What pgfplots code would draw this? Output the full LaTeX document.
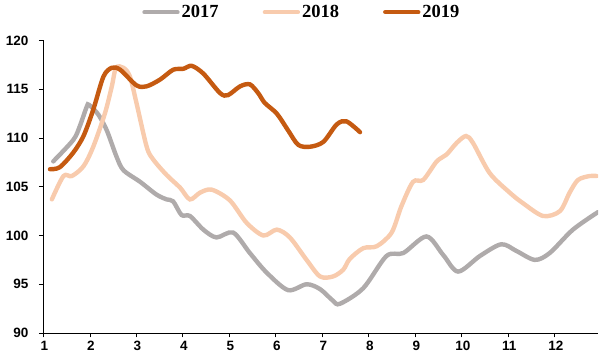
\documentclass[border=0pt]{standalone}
\usepackage{pgfplots}
\pgfplotsset{compat=1.18}
\usepackage{fontspec}
\setmainfont{Liberation Sans}
\newfontfamily\legfont{Liberation Serif}
\definecolor{c17}{RGB}{175,171,171}
\definecolor{c18}{RGB}{248,203,173}
\definecolor{c19}{RGB}{197,90,17}
\begin{document}
\begin{tikzpicture}
\begin{axis}[
  scale only axis,
  width=554.5pt, height=292.5pt,
  xmin=1, xmax=12.93, ymin=90, ymax=120,
  axis x line=bottom, axis y line=left,
  axis line style={-, line width=0.9pt, black},
  xtick={1,2,...,12}, ytick={90,95,...,120},
  tick align=outside, major tick length=4.5pt,
  tick style={line width=0.9pt, black},
  /pgf/number format/assume math mode=true,
  xticklabel style={font=\fontsize{13.5}{15}\selectfont\bfseries, xshift=1pt},
  yticklabel style={font=\fontsize{13.5}{15}\selectfont\bfseries, xshift=-7pt},
  legend columns=3,
  legend style={at={(0.466,1.097)}, anchor=center, draw=none, fill=none,
    font=\legfont\bfseries\fontsize{18.5}{20}\selectfont,
    /tikz/every even column/.append style={column sep=42pt}},
  legend image code/.code={\draw[#1, line cap=round] (0pt,0pt) -- (33pt,0pt);},
  every axis plot/.append style={line width=4.4pt, smooth, tension=0.5, line cap=round},
]
\addplot[c17] coordinates {
(1.21,107.6) (1.64,109.8) (1.78,111.2) (1.93,113.2) (1.98,113.4) (2.18,112.4) (2.36,110.8) (2.57,108.1) (2.72,106.7) (3.08,105.5) (3.43,104.2) (3.65,103.7) (3.79,103.5) (3.97,102.1) (4.15,102.0) (4.44,100.6) (4.72,99.8) (5.08,100.3) (5.44,98.2) (5.80,96.2) (6.26,94.4) (6.66,95.0) (6.95,94.5) (7.23,93.3) (7.38,93.0) (7.88,94.6) (8.38,97.9) (8.74,98.2) (9.24,99.9) (9.60,98.0) (9.92,96.3) (10.39,97.9) (10.85,99.1) (11.18,98.4) (11.57,97.5) (11.89,98.2) (12.39,100.6) (12.93,102.4)
};
\addlegendentry{2017}
\addplot[c18] coordinates {
(1.18,103.7) (1.43,106.1) (1.61,106.1) (1.86,107.1) (2.07,109.1) (2.32,112.5) (2.47,115.3) (2.56,117.2) (2.72,117.2) (2.86,116.3) (3.00,113.6) (3.22,109.1) (3.36,107.8) (3.65,106.2) (3.94,104.9) (4.15,103.7) (4.37,104.4) (4.62,104.7) (5.01,103.6) (5.37,101.3) (5.73,100.0) (6.02,100.6) (6.30,99.8) (6.66,97.5) (6.95,95.8) (7.23,95.8) (7.45,96.5) (7.59,97.6) (7.88,98.7) (8.17,98.9) (8.49,100.3) (8.70,103.0) (8.95,105.5) (9.17,105.7) (9.46,107.6) (9.67,108.3) (9.89,109.5) (10.09,110.2) (10.24,109.5) (10.60,106.4) (11.03,104.4) (11.32,103.3) (11.75,102.0) (12.11,102.5) (12.32,104.4) (12.50,105.7) (12.75,106.1) (12.90,106.1)
};
\addlegendentry{2018}
\addplot[c19] coordinates {
(1.14,106.8) (1.35,107.0) (1.64,108.5) (1.86,110.2) (2.07,112.9) (2.29,116.3) (2.47,117.2) (2.65,117.0) (3.00,115.4) (3.22,115.3) (3.51,116.0) (3.79,117.0) (4.01,117.1) (4.19,117.4) (4.44,116.6) (4.80,114.6) (4.97,114.4) (5.23,115.3) (5.44,115.5) (5.62,114.6) (5.76,113.6) (6.02,112.5) (6.26,110.8) (6.48,109.3) (6.73,109.1) (7.02,109.6) (7.31,111.4) (7.52,111.7) (7.81,110.6)
};
\addlegendentry{2019}
\end{axis}
\pgfresetboundingbox
\path[use as bounding box] ([xshift=-43.5pt,yshift=-27pt]current axis.south west) rectangle ([xshift=2pt,yshift=40.5pt]current axis.north east);
\end{tikzpicture}
\end{document}
